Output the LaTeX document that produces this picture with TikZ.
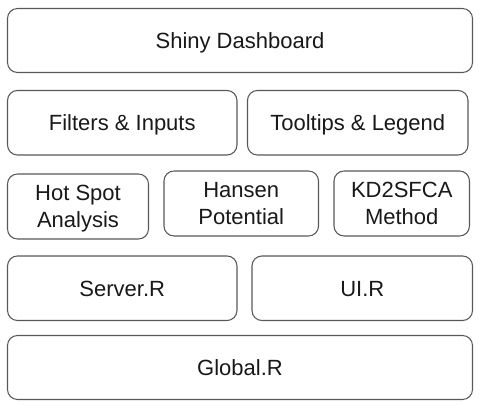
\documentclass[tikz,border=0pt]{standalone}
\usepackage{fontspec}
\setmainfont{Liberation Sans}
\begin{document}
\begin{tikzpicture}[x=0.75pt,y=-0.75pt,
  box/.style={draw=black!65, line width=0.8pt, rounded corners=7.5pt, fill=white,
    inner sep=0pt, align=center, text=black!90,
    font=\fontsize{16.5}{20.5}\selectfont},
  one/.style={box, text height=11.8pt, text depth=0pt},
  two/.style={box, text depth=0pt}]
\useasboundingbox (0,0) rectangle (479,406);
\node[one, minimum width=348.75pt, minimum height=48pt] (shiny) at (240,40.5) {Shiny Dashboard};
\node[one, minimum width=172.1pt, minimum height=48.4pt] (filters) at (122.25,122.75) {Filters \& Inputs};
\node[one, minimum width=165.4pt, minimum height=48.4pt] (tooltips) at (357.75,122.75) {Tooltips \& Legend};
\node[two, minimum width=105.75pt, minimum height=48.75pt] (hotspot) at (78,206.5) {Hot Spot\\Analysis};
\node[two, minimum width=115.9pt, minimum height=48.75pt] (hansen) at (241.25,203.5) {Hansen\\Potential};
\node[two, minimum width=101.6pt, minimum height=48.75pt] (kd) at (401.75,203.5) {KD2SFCA\\Method};
\node[one, minimum width=172.1pt, minimum height=48.4pt] (server) at (122.25,288.25) {Server.R};
\node[one, minimum width=165.4pt, minimum height=48.4pt] (ui) at (362.25,288.25) {UI.R};
\node[one, minimum width=348.75pt, minimum height=48pt] (global) at (240,367.5) {Global.R};
\end{tikzpicture}
\end{document}
